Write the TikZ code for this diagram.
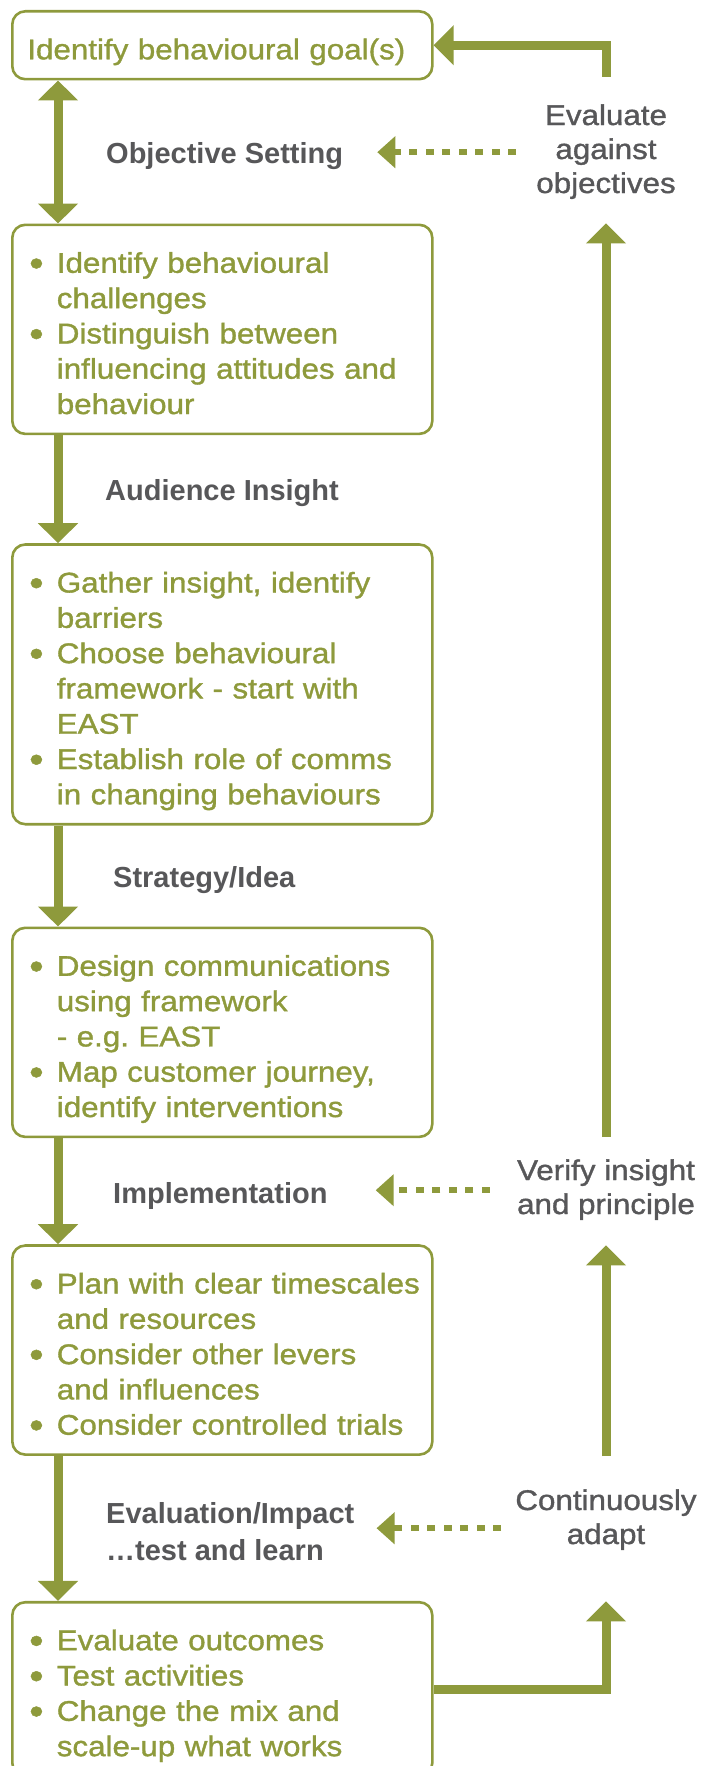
\documentclass[tikz,border=0pt]{standalone}
\usepackage{fontspec}
\setmainfont{Liberation Sans}[FakeStretch=1.1, FakeBold=1.2]
\newfontfamily\stagefont{Liberation Sans}
\usetikzlibrary{positioning,arrows.meta}
\definecolor{leafgreen}{RGB}{142,154,60}
\definecolor{labelgray}{RGB}{87,87,89}
\newcommand\bul{\makebox[29.5pt][l]{\hspace{2pt}\raisebox{-3pt}{\scalebox{1.3}{\textbullet}}}}
\newcommand\boxtext[1]{\raisebox{-7pt}[\height][\depth]{\begin{tabular}{@{}l@{}l@{}}#1\end{tabular}}}
\tikzset{
  stage box/.style={
    draw=leafgreen,
    line width=2.6pt,
    rounded corners=13pt,
    text=leafgreen,
    text width=390pt,
    inner xsep=15pt,
    inner ysep=16.3pt,
    align=left,
    font=\fontsize{28.5}{35.3}\selectfont,
  },
  stage label/.style={
    anchor=base west,
    inner sep=0pt,
    text=labelgray,
    font=\stagefont\bfseries\fontsize{29}{37}\selectfont,
  },
  check label/.style={
    anchor=base,
    inner sep=0pt,
    text=labelgray,
    font=\fontsize{28.5}{34}\selectfont,
  },
  flow arrow/.style={
    color=leafgreen,
    line width=9pt,
    -{Triangle[width=39pt,length=20pt]},
  },
  dash arrow/.style={
    color=leafgreen,
    line width=6pt,
    dash pattern=on 8pt off 8.5pt,
    -{Triangle[width=31pt,length=18pt]},
  }
}

\begin{document}
\begin{tikzpicture}[x=1pt, y=-1pt]
        \useasboundingbox (0,0) rectangle (710,1766);

        \node [stage box, anchor=north west] (goal) at (11,10) {\boxtext{Identify behavioural goal(s)}};
        \node [stage box, below=143pt of goal] (challenges) {\boxtext{
          \bul & Identify behavioural\\
               & challenges\\
          \bul & Distinguish between\\
               & influencing attitudes and\\
               & behaviour}};
        \node [stage box, below=108pt of challenges] (insight) {\boxtext{
          \bul & Gather insight, identify\\
               & barriers\\
          \bul & Choose behavioural\\
               & framework - start with\\
               & EAST\\
          \bul & Establish role of comms\\
               & in changing behaviours}};
        \node [stage box, below=101pt of insight] (design) {\boxtext{
          \bul & Design communications\\
               & using framework\\
               & - e.g.\ EAST\\
          \bul & Map customer journey,\\
               & identify interventions}};
        \node [stage box, below=106pt of design] (plan) {\boxtext{
          \bul & Plan with clear timescales\\
               & and resources\\
          \bul & Consider other levers\\
               & and influences\\
          \bul & Consider controlled trials}};
        \node [stage box, below=145pt of plan] (outcomes) {\boxtext{
          \bul & Evaluate outcomes\\
          \bul & Test activities\\
          \bul & Change the mix and\\
               & scale-up what works}};

        \node [stage label] (objective) at (106,163) {Objective Setting};
        \node [stage label] (audience) at (105,500) {Audience Insight};
        \node [stage label] (strategy) at (113,887) {Strategy/Idea};
        \node [stage label] (implement) at (113,1203) {Implementation};
        \node [stage label] (evaluation) at (106,1523) {\begin{tabular}[t]{@{}l@{}}Evaluation/Impact\\…test and learn\end{tabular}};

        \node [check label] (evalobj) at (606,125) {\begin{tabular}[t]{@{}c@{}}Evaluate\\against\\objectives\end{tabular}};
        \node [check label] (verify) at (606,1180) {\begin{tabular}[t]{@{}c@{}}Verify insight\\and principle\end{tabular}};
        \node [check label] (adapt) at (606,1510) {\begin{tabular}[t]{@{}c@{}}Continuously\\adapt\end{tabular}};

        \draw [flow arrow, {Triangle[width=39pt,length=20pt]}-{Triangle[width=39pt,length=20pt]}] ([xshift=47pt]goal.south west) -- ([xshift=47pt]challenges.north west);
        \draw [flow arrow] ([xshift=47pt]challenges.south west) -- ([xshift=47pt]insight.north west);
        \draw [flow arrow] ([xshift=47pt]insight.south west) -- ([xshift=47pt]design.north west);
        \draw [flow arrow] ([xshift=47pt]design.south west) -- ([xshift=47pt]plan.north west);
        \draw [flow arrow] ([xshift=47pt]plan.south west) -- ([xshift=47pt]outcomes.north west);

        \draw [flow arrow] (outcomes.east) -| ([yshift=-47pt]adapt.south);
        \draw [flow arrow] ([yshift=30pt]adapt.north) -- ([yshift=-21pt]verify.south);
        \draw [flow arrow] ([yshift=19pt]verify.north) -- ([yshift=-20pt]evalobj.south);
        \draw [flow arrow] ([yshift=24pt]evalobj.north) |- (goal.east);

        \draw [dash arrow, shorten <=20pt, shorten >=34pt] (evalobj.west) -- (evalobj.west -| objective.east);
        \draw [dash arrow, shorten <=27pt, shorten >=48pt] (verify.west) -- (verify.west -| implement.east);
        \draw [dash arrow, shorten <=14pt, shorten >=22pt] ([yshift=-8pt]adapt.west) -- ([yshift=-8pt]adapt.west -| evaluation.east);
\end{tikzpicture}
\end{document}
